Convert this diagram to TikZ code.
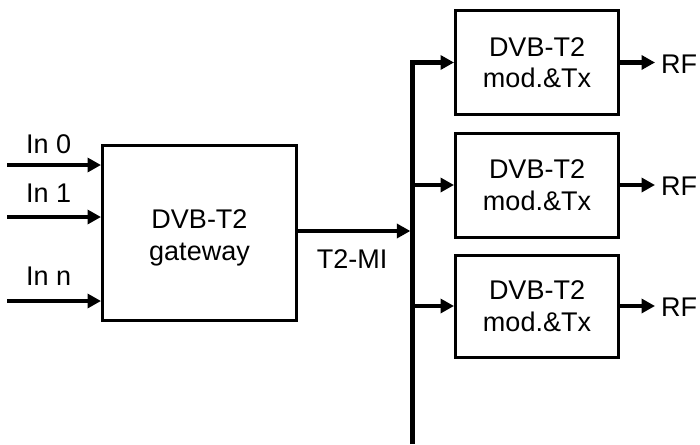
\documentclass[tikz,border=0pt]{standalone}
\usepackage{fontspec}
\setmainfont{Liberation Sans}
\usetikzlibrary{arrows.meta}
\begin{document}
\begin{tikzpicture}[x=1pt,y=-1pt,
  txt/.style={font=\fontsize{27}{31.5}\selectfont, inner sep=0pt},
  blk/.style={draw, line width=3pt, rectangle, align=center, inner sep=0pt,
    font=\fontsize{27}{31.5}\selectfont},
  arr/.style={line width=4.3pt, -{Triangle[length=13.5pt,width=14pt]}},
  wire/.style={line width=4.3pt}]
\useasboundingbox (0,0) rectangle (700,444);
% gateway
\node[blk, minimum width=194pt, minimum height=175pt, text depth=0pt] (gw) at (199.5,232.5) {\rule{0pt}{24pt}DVB-T2\\gateway};
% modulators
\node[blk, minimum width=163pt, minimum height=103pt] (m1) at (537,62.5) {DVB-T2\\mod.\&Tx};
\node[blk, minimum width=163pt, minimum height=104pt] (m2) at (537,185) {DVB-T2\\mod.\&Tx};
\node[blk, minimum width=163pt, minimum height=102pt] (m3) at (537,306) {DVB-T2\\mod.\&Tx};
% inputs
\coordinate (i0) at (7,165);
\coordinate (i1) at (7,217);
\coordinate (in) at (7,301);
\draw[arr] (i0) -- (i0 -| gw.west);
\draw[arr] (i1) -- (i1 -| gw.west);
\draw[arr] (in) -- (in -| gw.west);
\node[txt, anchor=base west] (l0) at (26,153) {In 0};
\node[txt, anchor=base west] (l1) at (26,202) {In 1};
\node[txt, anchor=base west] (ln) at (26,285) {In n};
% bus
\coordinate (bbot) at (412.5,444);
\coordinate (bt) at (412.5,231);
\draw[arr] (bbot) |- (m1.west);
\draw[arr] (bbot |- m2.west) -- (m2.west);
\draw[arr] (bbot |- m3.west) -- (m3.west);
\draw[arr, shorten >=2.15pt] (gw.east |- bt) -- (bt);
\node[txt, anchor=base] (t2mi) at (352,268) {T2-MI};
% RF outputs
\coordinate (r1) at (655,62.5);
\coordinate (r2) at (655,185);
\coordinate (r3) at (655,306);
\draw[arr] (m1.east) -- (r1);
\draw[arr] (m2.east) -- (r2);
\draw[arr] (m3.east) -- (r3);
\node[txt, anchor=base west] (rf1) at (661,73) {RF};
\node[txt, anchor=base west] (rf2) at (661,195) {RF};
\node[txt, anchor=base west] (rf3) at (661,316) {RF};
\end{tikzpicture}
\end{document}
